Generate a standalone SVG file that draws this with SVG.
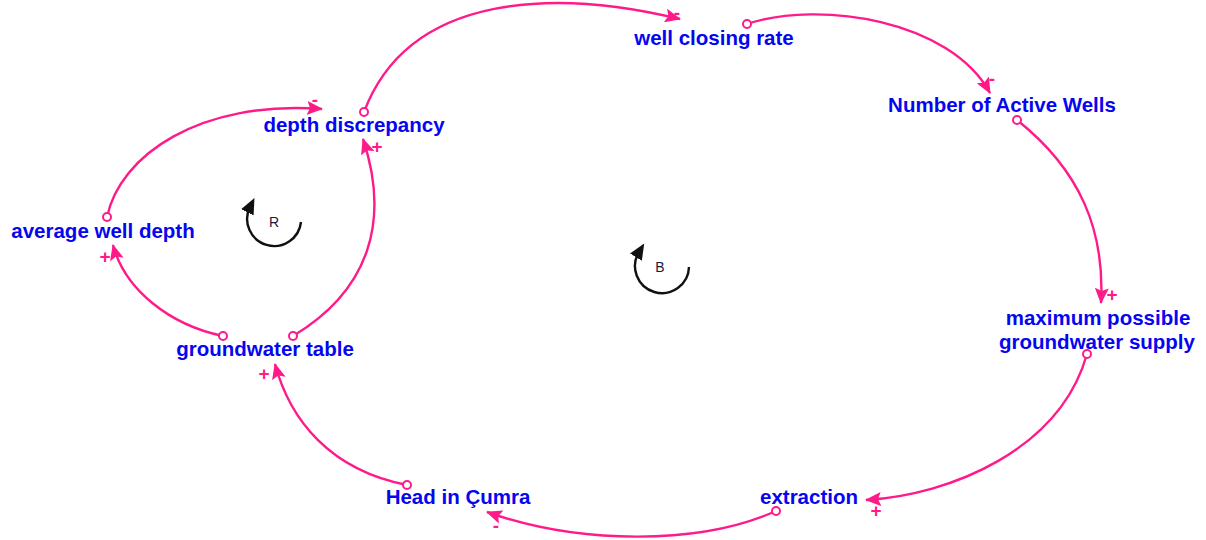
<svg xmlns="http://www.w3.org/2000/svg" width="1206" height="540" viewBox="0 0 1206 540">
<style>
.lbl{font-family:"Liberation Sans",Arial,sans-serif;font-weight:bold;font-size:20.5px;fill:#0505f0;text-anchor:middle}
.lnk{fill:none;stroke:#ff1a8a;stroke-width:2.4;marker-end:url(#ah)}
.org{fill:#fff;stroke:#ff1a8a;stroke-width:2}
.sgn{font-family:"Liberation Sans",Arial,sans-serif;font-weight:bold;font-size:19px;fill:#ff1a8a;text-anchor:middle}
.loop{fill:none;stroke:#111;stroke-width:2.4;marker-end:url(#lh)}
.lt{font-family:"Liberation Sans",Arial,sans-serif;font-size:14px;fill:#1a1a40;text-anchor:middle}
</style>
<defs>
<marker id="ah" viewBox="0 0 16 14" refX="15" refY="7" markerWidth="16" markerHeight="14" markerUnits="userSpaceOnUse" orient="auto">
<path d="M0,0 L16,7 L0,14 L3,7 Z" fill="#ff1a8a"/>
</marker>
<marker id="lh" viewBox="0 0 16 14" refX="6" refY="7" markerWidth="16" markerHeight="14" markerUnits="userSpaceOnUse" orient="auto">
<path d="M0,0 L16,7 L0,14 Z" fill="#111"/>
</marker>
</defs>
<g id="connectors">
<path class="lnk" d="M107,217 C120,155 200,100 322,109"/>
<path class="lnk" d="M364,112 C410,-10 560,-10 680,19"/>
<path class="lnk" d="M747,24 C820,0 950,20 990,93"/>
<path class="lnk" d="M1017,120 C1080,170 1105,230 1101,303"/>
<path class="lnk" d="M1087,354 C1060,450 950,495 866,500"/>
<path class="lnk" d="M776,511 C700,545 580,545 487,512"/>
<path class="lnk" d="M407,485 C330,470 290,420 275,364"/>
<path class="lnk" d="M223,336 C170,325 125,290 113,245"/>
<path class="lnk" d="M293,336 C370,290 390,220 363,139"/>
<circle class="org" cx="107" cy="217" r="4"/>
<circle class="org" cx="364" cy="112" r="4"/>
<circle class="org" cx="747" cy="24" r="4"/>
<circle class="org" cx="1017" cy="120" r="4"/>
<circle class="org" cx="1087" cy="354" r="4"/>
<circle class="org" cx="776" cy="511" r="4"/>
<circle class="org" cx="407" cy="485" r="4"/>
<circle class="org" cx="223" cy="336" r="4"/>
<circle class="org" cx="293" cy="336" r="4"/>
<text class="sgn" x="315" y="106">-</text>
<text class="sgn" x="677" y="19">-</text>
<text class="sgn" x="992" y="85">-</text>
<text class="sgn" x="496" y="532">-</text>
<text class="sgn" x="377" y="153">+</text>
<text class="sgn" x="1112" y="301">+</text>
<text class="sgn" x="876" y="517">+</text>
<text class="sgn" x="264" y="380">+</text>
<text class="sgn" x="105" y="263">+</text>
</g>
<g id="loop-R">
<path class="loop" d="M301,222 A27,27 0 1 1 250,207"/>
<text class="lt" x="274" y="227">R</text>
</g>
<g id="loop-B">
<path class="loop" d="M689,267 A27,27 0 1 1 639,252"/>
<text class="lt" x="660" y="272">B</text>
</g>
<g id="n-depth-discrepancy"><text class="lbl" x="354" y="132">depth discrepancy</text></g>
<g id="n-well-closing-rate"><text class="lbl" x="714" y="45">well closing rate</text></g>
<g id="n-active-wells"><text class="lbl" x="1002" y="112">Number of Active Wells</text></g>
<g id="n-average-well-depth"><text class="lbl" x="103" y="238">average well depth</text></g>
<g id="n-groundwater-table"><text class="lbl" x="265" y="356">groundwater table</text></g>
<g id="n-max-supply"><text class="lbl" x="1098" y="325">maximum possible</text><text class="lbl" x="1097" y="349">groundwater supply</text></g>
<g id="n-head"><text class="lbl" x="458" y="504">Head in Çumra</text></g>
<g id="n-extraction"><text class="lbl" x="809" y="504">extraction</text></g>
</svg>
